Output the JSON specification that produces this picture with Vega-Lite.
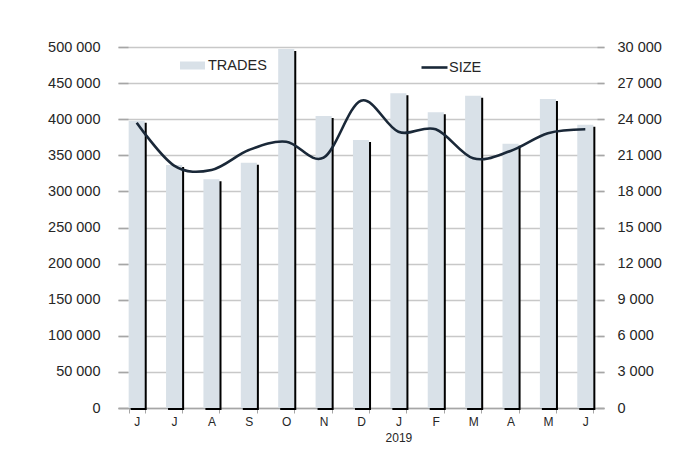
{
  "$schema": "https://vega.github.io/schema/vega-lite/v6.json",
  "width": 486,
  "height": 361,
  "autosize": {"type": "none"},
  "padding": {"left": 118, "top": 47, "right": 86, "bottom": 41},
  "background": "white",
  "config": {
    "view": {"stroke": null},
    "font": "Liberation Sans",
    "axis": {"labelColor": "#262626", "title": null, "labelOverlap": false},
    "legend": {"labelColor": "#262626", "labelFont": "Liberation Sans"}
  },
  "data": {
    "values": [
      {"m": "Jun 2018", "trades": 398000, "size": 23710},
      {"m": "Jul 2018", "trades": 336500, "size": 20150},
      {"m": "Aug 2018", "trades": 316800, "size": 19780},
      {"m": "Sep 2018", "trades": 339800, "size": 21440},
      {"m": "Oct 2018", "trades": 497200, "size": 22130},
      {"m": "Nov 2018", "trades": 404400, "size": 20800},
      {"m": "Dec 2018", "trades": 371200, "size": 25540},
      {"m": "Jan 2019", "trades": 435900, "size": 22960},
      {"m": "Feb 2019", "trades": 409500, "size": 23160},
      {"m": "Mar 2019", "trades": 432500, "size": 20750},
      {"m": "Apr 2019", "trades": 366000, "size": 21360},
      {"m": "May 2019", "trades": 428000, "size": 22830},
      {"m": "Jun 2019", "trades": 392400, "size": 23160}
    ]
  },
  "layer": [
    {
      "encoding": {
        "x": {"field": "m", "type": "nominal", "sort": null,
          "scale": {"paddingInner": 0.57, "paddingOuter": 0.285},
          "axis": {
            "labelAngle": 0, "tickBand": "extent", "tickSize": 5,
            "tickColor": "#a6a6a6", "domainColor": "#a6a6a6", "domainWidth": 1.5,
            "labelFontSize": 12, "labelPadding": 3, "labelLineHeight": 16,
            "labelExpr": "!isString(datum.value) ? '' : (datum.value == 'Jan 2019' ? ['J', '2019'] : substring(datum.value, 0, 1))",
            "grid": false
          }
        },
        "y": {"field": "trades", "type": "quantitative",
          "scale": {"domain": [0, 500000], "nice": false},
          "axis": {
            "values": [0, 50000, 100000, 150000, 200000, 250000, 300000, 350000, 400000, 450000, 500000],
            "grid": true, "gridColor": "#c8c8c8", "gridWidth": 1.5,
            "domain": false, "tickSize": -10, "tickColor": "#a6a6a6", "tickWidth": 1.5,
            "labelPadding": 28, "labelFontSize": 14.5,
            "labelExpr": "replace(format(datum.value, ','), ',', ' ')"
          }
        }
      },
      "layer": [
        {
          "mark": {"type": "bar", "color": "#000000", "xOffset": 2, "yOffset": 2}
        },
        {
          "mark": {"type": "bar"},
          "encoding": {
            "fill": {"datum": "TRADES",
              "scale": {"domain": ["TRADES"], "range": ["#d9e1e8"]},
              "legend": {
                "orient": "none", "legendX": 62, "legendY": 6, "title": null, "padding": 0,
                "symbolType": "M-1,-0.32H1V0.32H-1Z", "symbolSize": 625, "symbolStrokeWidth": 0,
                "labelFontSize": 14.5, "labelOffset": 3
              }
            }
          }
        }
      ]
    },
    {
      "mark": {"type": "line", "interpolate": "cardinal", "strokeWidth": 2.6},
      "encoding": {
        "x": {"field": "m", "type": "nominal", "sort": null},
        "y": {"field": "size", "type": "quantitative",
          "scale": {"domain": [0, 30000], "nice": false},
          "axis": {
            "orient": "right",
            "values": [0, 3000, 6000, 9000, 12000, 15000, 18000, 21000, 24000, 27000, 30000],
            "grid": false, "domain": false, "tickSize": -7, "tickColor": "#a6a6a6", "tickWidth": 1.5,
            "labelPadding": 20, "labelFontSize": 14.5,
            "labelExpr": "replace(format(datum.value, ','), ',', ' ')"
          }
        },
        "stroke": {"datum": "SIZE",
          "scale": {"domain": ["SIZE"], "range": ["#1a2838"]},
          "legend": {
            "orient": "none", "legendX": 302, "legendY": 6, "title": null, "padding": 0,
            "symbolType": "stroke", "symbolSize": 676, "symbolStrokeWidth": 2.6,
            "labelFontSize": 14.5, "labelOffset": 0
          }
        }
      }
    }
  ],
  "resolve": {"scale": {"y": "independent"}}
}
